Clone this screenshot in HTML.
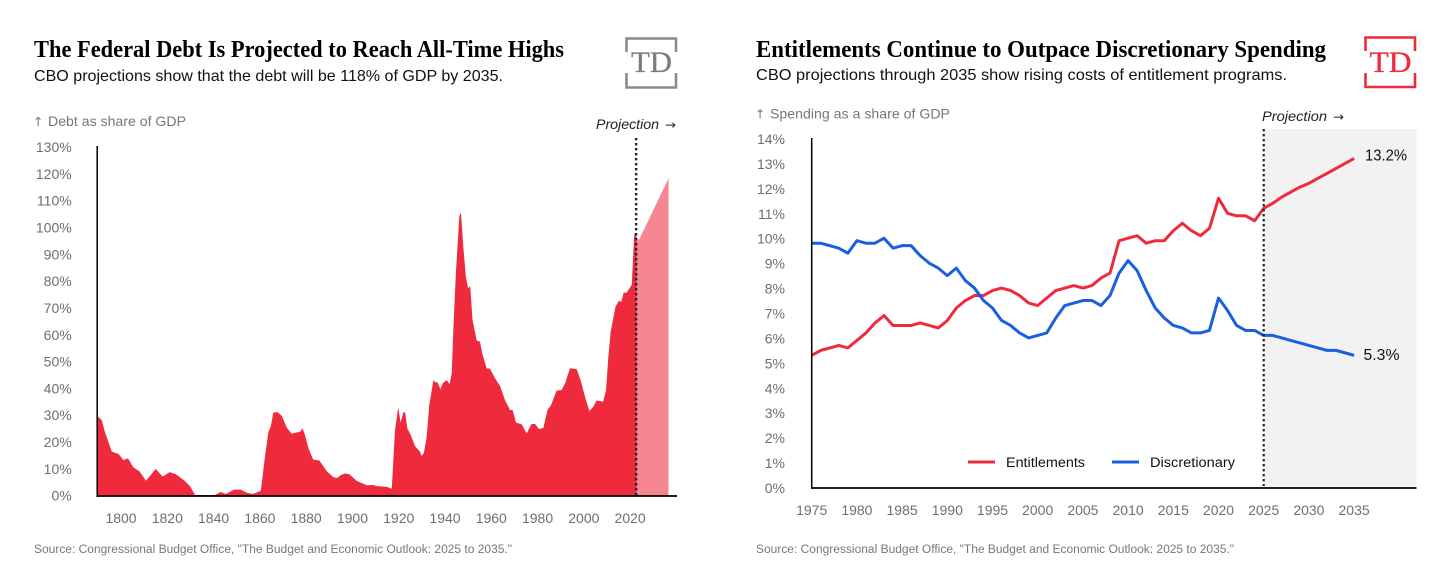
<!DOCTYPE html>
<html lang="en">
<head>
<meta charset="utf-8">
<title>Federal Debt and Entitlement Spending Charts</title>
<style>
  html, body { margin: 0; padding: 0; background: #fff; }
  body { width: 1456px; height: 585px; overflow: hidden; }
  svg { display: block; font-family: "Liberation Sans", sans-serif; }
  .title { font-family: "Liberation Serif", serif; font-weight: 700; font-size: 24.5px; fill: #000; }
  .sub { font-size: 16px; fill: #111; }
  .axis-title { font-size: 14px; fill: #777; }
  .arrow { font-family: "DejaVu Sans", sans-serif; font-size: 12.5px; }
  .proj { font-size: 14px; font-style: italic; fill: #222; }
  .proj-arrow { font-family: "DejaVu Sans", sans-serif; font-size: 12px; fill: #222; }
  .tick { font-size: 14px; fill: #6e6e6e; }
  .source { font-size: 11.5px; fill: #777; }
  .legend { font-size: 13.5px; fill: #111; }
  .value { font-size: 16px; fill: #111; }
  .logo-text { font-family: "Liberation Serif", serif; font-size: 30px; stroke-width: 0.3; }
</style>
</head>
<body>
<svg id="canvas" width="1456" height="585" viewBox="0 0 1456 585" xmlns="http://www.w3.org/2000/svg">
  <rect x="0" y="0" width="1456" height="585" fill="#fff"/>

  <g id="left">
    <text class="title" x="34" y="57" textLength="530" lengthAdjust="spacingAndGlyphs">The Federal Debt Is Projected to Reach All-Time Highs</text>
    <text class="sub" x="34" y="81" textLength="469" lengthAdjust="spacingAndGlyphs">CBO projections show that the debt will be 118% of GDP by 2035.</text>
    <text class="axis-title arrow" x="33" y="126">↑</text>
    <text class="axis-title" x="48" y="126" textLength="138" lengthAdjust="spacingAndGlyphs">Debt as share of GDP</text>
    <text class="proj" x="596" y="129" textLength="63" lengthAdjust="spacingAndGlyphs">Projection</text>
    <text class="proj-arrow" x="665" y="129" textLength="11" lengthAdjust="spacingAndGlyphs">→</text>
    <text class="source" x="34" y="553" textLength="478" lengthAdjust="spacingAndGlyphs">Source: Congressional Budget Office, "The Budget and Economic Outlook: 2025 to 2035."</text>
    <g fill="none" stroke="#8a8a8a" stroke-width="2.6">
      <path d="M626.5 52V38.5H676V52"/>
      <path d="M626.5 73V87.5H676V73"/>
      <text class="logo-text" x="631" y="72" fill="#7c7c7c" stroke="#7c7c7c" textLength="41" lengthAdjust="spacingAndGlyphs">TD</text>
    </g>
    <g id="leftPlot"></g>
  </g>

  <g id="right">
    <text class="title" x="756" y="57" textLength="570" lengthAdjust="spacingAndGlyphs">Entitlements Continue to Outpace Discretionary Spending</text>
    <text class="sub" x="756" y="80" textLength="531" lengthAdjust="spacingAndGlyphs">CBO projections through 2035 show rising costs of entitlement programs.</text>
    <text class="axis-title arrow" x="755" y="118.5">↑</text>
    <text class="axis-title" x="770" y="118.5" textLength="180" lengthAdjust="spacingAndGlyphs">Spending as a share of GDP</text>
    <text class="proj" x="1262" y="121" textLength="65" lengthAdjust="spacingAndGlyphs">Projection</text>
    <text class="proj-arrow" x="1333" y="121" textLength="11" lengthAdjust="spacingAndGlyphs">→</text>
    <text class="source" x="756" y="553" textLength="478" lengthAdjust="spacingAndGlyphs">Source: Congressional Budget Office, "The Budget and Economic Outlook: 2025 to 2035."</text>
    <g fill="none" stroke="#ee2a3c" stroke-width="2.6">
      <path d="M1365.5 51V37.5H1415V51"/>
      <path d="M1365.5 73V87H1415V73"/>
      <text class="logo-text" x="1369.5" y="72" fill="#ee2a3c" stroke="#ee2a3c" textLength="42" lengthAdjust="spacingAndGlyphs">TD</text>
    </g>
    <g id="rightPlot"></g>
    <g>
      <rect x="968" y="460.5" width="27" height="3" fill="#ee2a3c"/>
      <text class="legend" x="1006" y="467" textLength="79" lengthAdjust="spacingAndGlyphs">Entitlements</text>
      <rect x="1112" y="460.5" width="27" height="3" fill="#1a5fde"/>
      <text class="legend" x="1150" y="467" textLength="85" lengthAdjust="spacingAndGlyphs">Discretionary</text>
    </g>
  </g>
</svg>

<script>
const debtYTicks = [0,10,20,30,40,50,60,70,80,90,100,110,120,130];
const debtXTicks = [1800,1820,1840,1860,1880,1900,1920,1940,1960,1980,2000,2020];
const debtYears = [1790,1791.6,1793,1796,1799,1801,1803,1805.3,1808,1810.8,1813.2,1815,1818,1821,1823.7,1827,1829.8,1832,1837.7,1840.6,1843,1845.4,1848.8,1851.7,1854.3,1857,1860.4,1862.2,1863.7,1864.7,1865.8,1867.6,1869.5,1871.6,1873.7,1877.4,1878.4,1879.5,1881,1883,1885.7,1889,1891.8,1893.4,1895,1896.8,1898.7,1901.9,1906.2,1909,1910.5,1914.9,1917,1918.4,1919.8,1920.8,1922,1922.8,1923.7,1925.2,1927,1929.2,1929.9,1930.9,1932.1,1933.2,1935,1935.7,1936.8,1938,1939,1940.7,1942,1942.9,1943.6,1944.7,1946.2,1946.9,1947.9,1949,1950,1950.9,1951.9,1953.7,1955.1,1956.1,1958,1959.4,1961.6,1963.8,1965.9,1968.1,1969.2,1970.7,1973.1,1975.3,1977.4,1978.9,1980.6,1982.5,1984.4,1985.7,1988.2,1990.4,1991.9,1994,1996.9,1998.6,2000.5,2002.4,2004.1,2005.5,2008.4,2009.6,2010.6,2011.6,2013.7,2015.2,2016.2,2017.2,2018.5,2020.7,2021.8,2022.8];
const debtValues = [29.3,28.1,23.7,16.3,15.4,13.2,13.8,10.5,8.9,5.5,8,9.9,7,8.7,7.9,5.8,3.5,0.2,0.2,0.2,1.3,0.6,2.2,2.2,1,0.6,1.7,14.4,23.7,25.6,30.8,31,29.6,25.3,23,23.7,25,22.5,17.5,13.4,13,8.9,6.8,6.5,7.6,8.2,7.9,5.4,3.8,3.9,3.5,3.2,2.5,24.3,32.8,27.1,31,30.8,25,22.5,18.4,16.3,14.7,15.9,21.9,33.6,42.9,42.1,42.1,39.5,41.7,42.9,41.4,45.4,61.5,82.6,103.9,105.1,92.5,81.4,77,77.9,65.2,57.6,57.2,52.8,47.2,47.2,43.6,40.7,35.5,31.8,31.8,27.1,26.5,23.1,26.6,26.6,24.7,25.1,32,33.3,39,39.2,41.7,47.3,47,42.9,36.7,31.4,33,35.3,34.9,39.2,51.6,60.9,70.2,72.4,72,75.4,75.4,78.3,97.4,96.4];
const debtProjYears = [2022.8,2024,2036.6];
const debtProjValues = [95,95.3,117.9];
const debtProjectionStart = 2022.6;

const spendYTicks = [0,1,2,3,4,5,6,7,8,9,10,11,12,13,14];
const spendXTicks = [1975,1980,1985,1990,1995,2000,2005,2010,2015,2020,2025,2030,2035];
const spendYears = [1975,1976,1977,1978,1979,1980,1981,1982,1983,1984,1985,1986,1987,1988,1989,1990,1991,1992,1993,1994,1995,1996,1997,1998,1999,2000,2001,2002,2003,2004,2005,2006,2007,2008,2009,2010,2011,2012,2013,2014,2015,2016,2017,2018,2019,2020,2021,2022,2023,2024,2025,2026,2027,2028,2029,2030,2031,2032,2033,2034,2035];
const entitlements = [5.3,5.5,5.6,5.7,5.6,5.9,6.2,6.6,6.9,6.5,6.5,6.5,6.6,6.5,6.4,6.7,7.2,7.5,7.7,7.7,7.9,8.0,7.9,7.7,7.4,7.3,7.6,7.9,8.0,8.1,8.0,8.1,8.4,8.6,9.9,10.0,10.1,9.8,9.9,9.9,10.3,10.6,10.3,10.1,10.4,11.6,11.0,10.9,10.9,10.7,11.2,11.4,11.65,11.85,12.05,12.2,12.4,12.6,12.8,13.0,13.2];
const discretionary = [9.8,9.8,9.7,9.6,9.4,9.9,9.8,9.8,10.0,9.6,9.7,9.7,9.3,9.0,8.8,8.5,8.8,8.3,8.0,7.5,7.2,6.7,6.5,6.2,6.0,6.1,6.2,6.8,7.3,7.4,7.5,7.5,7.3,7.7,8.6,9.1,8.7,7.9,7.2,6.8,6.5,6.4,6.2,6.2,6.3,7.6,7.1,6.5,6.3,6.3,6.1,6.1,6.0,5.9,5.8,5.7,5.6,5.5,5.5,5.4,5.3];
const spendProjectionStart = 2025;

const NS = 'http://www.w3.org/2000/svg';
function make(tag, parent, attrs, content) {
  const el = document.createElementNS(NS, tag);
  for (const k in attrs) el.setAttribute(k, attrs[k]);
  if (content !== undefined) el.textContent = content;
  parent.appendChild(el);
  return el;
}
function linePath(xs, ys, fx, fy) {
  return xs.map((v, i) => (i ? 'L' : 'M') + fx(v).toFixed(2) + ' ' + fy(ys[i]).toFixed(2)).join('');
}
function areaPath(xs, ys, fx, fy) {
  return linePath(xs, ys, fx, fy) + 'L' + fx(xs[xs.length - 1]).toFixed(2) + ' ' + fy(0) + 'L' + fx(xs[0]).toFixed(2) + ' ' + fy(0) + 'Z';
}

/* ---------- left chart ---------- */
const leftPlot = document.getElementById('leftPlot');
const lx = y => 97.9 + (y - 1790) * 2.314;
const ly = v => 495.5 - v * 2.69;
const lyLabel = v => 500.7 - v * 2.682;

debtYTicks.forEach(t => {
  const el = make('text', leftPlot, { class: 'tick', x: 71.7, y: lyLabel(t), 'text-anchor': 'end' }, t + '%');
  
  
});
debtXTicks.forEach(t => {
  const el = make('text', leftPlot, { class: 'tick', x: lx(t), y: 523, 'text-anchor': 'middle' }, String(t));
  
  
});
const projArea = make('path', leftPlot, { d: areaPath(debtProjYears, debtProjValues, lx, ly), fill: '#f58691' });


const histArea = make('path', leftPlot, { d: areaPath(debtYears, debtValues, lx, ly), fill: '#ee2a3c' });


const leftDots = make('line', leftPlot, { x1: lx(debtProjectionStart), x2: lx(debtProjectionStart), y1: 138, y2: 495, stroke: '#222', 'stroke-width': 2.4, 'stroke-dasharray': '2.4 2.6' });


const leftYAxis = make('line', leftPlot, { x1: 97.2, x2: 97.2, y1: 146, y2: 497, stroke: '#000', 'stroke-width': 1.5 });


const leftXAxis = make('line', leftPlot, { x1: 96.5, x2: 677, y1: 496, y2: 496, stroke: '#000', 'stroke-width': 1.8 });



/* ---------- right chart ---------- */
const rightPlot = document.getElementById('rightPlot');
const rx = y => 811.7 + (y - 1975) * 9.04;
const ry = v => 487.5 - v * 24.93;

const shade = make('rect', rightPlot, { x: rx(spendProjectionStart), y: 129, width: 1416.5 - rx(spendProjectionStart), height: 358, fill: '#f2f2f2' });


spendYTicks.forEach(t => {
  const el = make('text', rightPlot, { class: 'tick', x: 785, y: ry(t) + 5.5, 'text-anchor': 'end' }, t + '%');
  
  
});
spendXTicks.forEach(t => {
  const el = make('text', rightPlot, { class: 'tick', x: rx(t), y: 515, 'text-anchor': 'middle' }, String(t));
  
  
});
const redLine = make('path', rightPlot, { d: linePath(spendYears, entitlements, rx, ry), fill: 'none', stroke: '#ee2a3c', 'stroke-width': 3, 'stroke-linejoin': 'round' });


const blueLine = make('path', rightPlot, { d: linePath(spendYears, discretionary, rx, ry), fill: 'none', stroke: '#1a5fde', 'stroke-width': 3, 'stroke-linejoin': 'round' });


const rightDots = make('line', rightPlot, { x1: rx(spendProjectionStart), x2: rx(spendProjectionStart), y1: 129, y2: 486, stroke: '#222', 'stroke-width': 2.2, 'stroke-dasharray': '2.4 2.6' });


const rightYAxis = make('line', rightPlot, { x1: 811.7, x2: 811.7, y1: 138, y2: 488.5, stroke: '#000', 'stroke-width': 1.5 });


const rightXAxis = make('line', rightPlot, { x1: 811, x2: 1416.5, y1: 488, y2: 488, stroke: '#000', 'stroke-width': 1.8 });


const lastEnt = entitlements[entitlements.length - 1];
const lastDis = discretionary[discretionary.length - 1];
const entLabel = make('text', rightPlot, { class: 'value', x: 1365, y: ry(lastEnt) + 2, textLength: 42, lengthAdjust: 'spacingAndGlyphs' }, lastEnt.toFixed(1) + '%');


const disLabel = make('text', rightPlot, { class: 'value', x: 1363.5, y: ry(lastDis) + 4.5, textLength: 36, lengthAdjust: 'spacingAndGlyphs' }, lastDis.toFixed(1) + '%');


</script>
</body>
</html>
